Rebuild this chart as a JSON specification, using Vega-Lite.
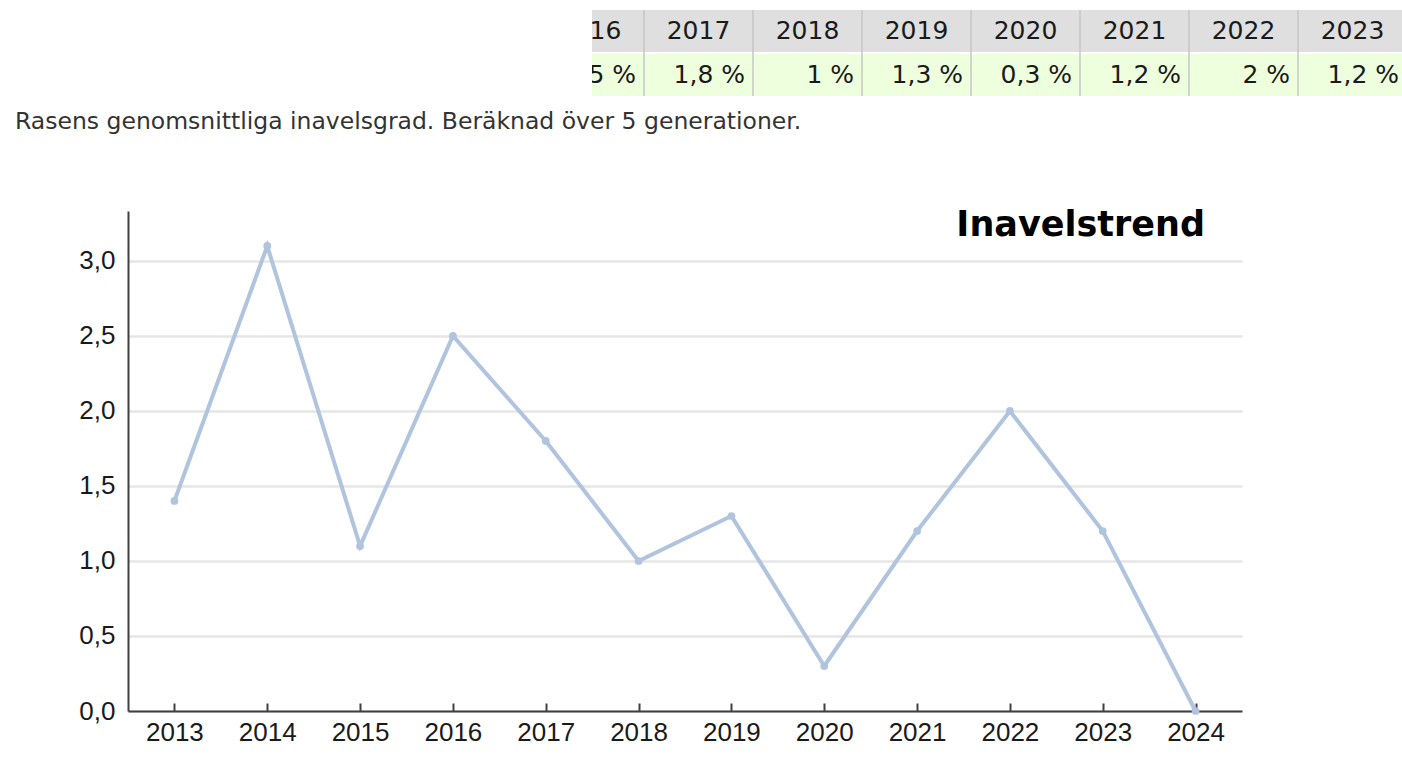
{
  "$schema": "https://vega.github.io/schema/vega-lite/v6.json",
  "padding": {"left": 15, "top": 10, "right": 0, "bottom": 0},
  "background": "white",
  "config": {"view": {"stroke": null}, "font": "DejaVu Sans"},
  "bounds": "flush",
  "spacing": 201,
  "datasets": {
    "table": [
      {"year": "2016", "v": "2,5 %"},
      {"year": "2017", "v": "1,8 %"},
      {"year": "2018", "v": "1 %"},
      {"year": "2019", "v": "1,3 %"},
      {"year": "2020", "v": "0,3 %"},
      {"year": "2021", "v": "1,2 %"},
      {"year": "2022", "v": "2 %"},
      {"year": "2023", "v": "1,2 %"}
    ],
    "trend": [
      {"year": "2013", "value": 1.4},
      {"year": "2014", "value": 3.1},
      {"year": "2015", "value": 1.1},
      {"year": "2016", "value": 2.5},
      {"year": "2017", "value": 1.8},
      {"year": "2018", "value": 1.0},
      {"year": "2019", "value": 1.3},
      {"year": "2020", "value": 0.3},
      {"year": "2021", "value": 1.2},
      {"year": "2022", "value": 2.0},
      {"year": "2023", "value": 1.2},
      {"year": "2024", "value": 0.0}
    ]
  },
  "vconcat": [
    {
      "bounds": "flush",
      "spacing": 0,
      "hconcat": [
        {
          "width": 464,
          "height": 86,
          "data": {"values": [{"a": 1}]},
          "mark": {"type": "point", "opacity": 0},
          "encoding": {},
          "title": {
            "text": "Rasens genomsnittliga inavelsgrad. Beräknad över 5 generationer.",
            "orient": "bottom",
            "anchor": "start",
            "frame": "group",
            "dx": -113,
            "offset": 33,
            "baseline": "alphabetic",
            "font": "DejaVu Sans",
            "fontSize": 23.5,
            "fontWeight": "normal",
            "color": "#333333"
          }
        },
        {
          "width": 810,
          "height": 86,
          "data": {"name": "table"},
          "encoding": {
            "x": {
              "field": "year",
              "type": "ordinal",
              "scale": {"type": "band", "range": [-57, 815], "paddingInner": 0, "paddingOuter": 0},
              "axis": null
            }
          },
          "layer": [
            {
              "mark": {"type": "rect", "color": "#dfdfdf", "clip": true},
              "encoding": {
                "y": {"datum": "h", "type": "nominal", "scale": {"domain": ["h", "v"], "paddingInner": 0.05, "paddingOuter": 0}, "axis": null}
              }
            },
            {
              "mark": {"type": "rect", "color": "#eeffdd", "clip": true},
              "encoding": {
                "y": {"datum": "v", "type": "nominal"}
              }
            },
            {
              "mark": {"type": "rule", "color": "#c6c6c6", "strokeWidth": 1.5, "clip": true},
              "encoding": {
                "x": {"field": "year", "type": "ordinal", "bandPosition": 0}
              }
            },
            {
              "mark": {"type": "text", "clip": true, "font": "DejaVu Sans", "fontSize": 25, "color": "#1a1a1a", "baseline": "middle", "align": "center"},
              "encoding": {
                "text": {"field": "year"},
                "y": {"datum": "h", "type": "nominal"}
              }
            },
            {
              "mark": {"type": "text", "clip": true, "font": "DejaVu Sans", "fontSize": 25, "color": "#1a1a1a", "baseline": "middle", "align": "right", "dx": -8},
              "encoding": {
                "x": {"field": "year", "type": "ordinal", "bandPosition": 1},
                "text": {"field": "v"},
                "y": {"datum": "v", "type": "nominal"}
              }
            }
          ]
        }
      ]
    },
    {
      "width": 1114,
      "height": 500,
      "title": {
        "text": "Inavelstrend",
        "anchor": "end",
        "frame": "group",
        "orient": "top",
        "offset": -60,
        "dx": -37,
        "baseline": "alphabetic",
        "font": "DejaVu Sans",
        "fontSize": 35,
        "fontWeight": "bold",
        "color": "#000000"
      },
      "data": {"name": "trend"},
      "encoding": {
        "x": {
          "field": "year",
          "type": "ordinal",
          "scale": {"padding": 0.5},
          "axis": {
            "title": null,
            "labelAngle": 0,
            "labelFont": "Liberation Sans",
            "labelFontSize": 26,
            "labelColor": "#1a1a1a",
            "domainColor": "#404040",
            "domainWidth": 2,
            "tickColor": "#404040",
            "tickWidth": 2,
            "tickSize": -8,
            "labelPadding": 16,
            "grid": false
          }
        },
        "y": {
          "field": "value",
          "type": "quantitative",
          "scale": {"domain": [0, 3.3333], "nice": false},
          "axis": {
            "title": null,
            "values": [0, 0.5, 1, 1.5, 2, 2.5, 3],
            "labelExpr": "replace(format(datum.value, '.1f'), '.', ',')",
            "labelFont": "Liberation Sans",
            "labelFontSize": 26,
            "labelColor": "#1a1a1a",
            "ticks": false,
            "labelPadding": 13,
            "domainColor": "#404040",
            "domainWidth": 2,
            "grid": true,
            "gridColor": "#e6e6e6",
            "gridWidth": 2.5
          }
        }
      },
      "layer": [
        {"mark": {"type": "line", "color": "#b0c4de", "strokeWidth": 4}},
        {"mark": {"type": "point", "filled": true, "color": "#b0c4de", "size": 60, "opacity": 1}}
      ]
    }
  ]
}
